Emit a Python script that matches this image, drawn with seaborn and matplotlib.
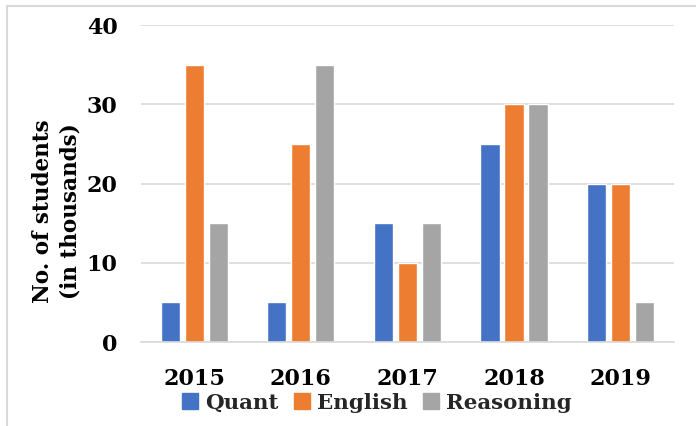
import pandas as pd
import numpy as np
import matplotlib
matplotlib.use('Agg')
import matplotlib.pyplot as plt
import seaborn as sns
from matplotlib.lines import Line2D

# Chart data
years = ['2015', '2016', '2017', '2018', '2019']
quant = [5, 5, 15, 25, 20]
english = [35, 25, 10, 30, 20]
reasoning = [15, 35, 15, 30, 5]

subjects = ['Quant', 'English', 'Reasoning']
colors = ['#4472C4', '#ED7D31', '#A5A5A5']

# Long format for seaborn
df = pd.DataFrame({
    'Year': years * 3,
    'Subject': ['Quant'] * 5 + ['English'] * 5 + ['Reasoning'] * 5,
    'Students': quant + english + reasoning,
})

sns.set_style('white')
plt.rcParams['font.family'] = ['DejaVu Serif']
plt.rcParams['font.weight'] = 'bold'

fig = plt.figure(figsize=(6.96, 4.26), dpi=100)
ax = fig.add_axes([0.2026, 0.197, 0.7655, 0.744])

sns.barplot(data=df, x='Year', y='Students', hue='Subject', hue_order=subjects,
            palette=colors, width=0.675, gap=0.2, errorbar=None, ax=ax,
            saturation=1, legend=False)

ax.set_ylim(0, 40)
ax.set_yticks([0, 10, 20, 30, 40])
ax.set_xlim(-0.5, 4.5)
ax.yaxis.grid(True, color='#d9d9d9', linewidth=1.2)
ax.set_axisbelow(True)
for s in ['top', 'right', 'left']:
    ax.spines[s].set_visible(False)
ax.spines['bottom'].set_color('#d9d9d9')
ax.spines['bottom'].set_linewidth(1.2)
ax.tick_params(axis='both', length=0, labelsize=16, labelcolor='black')
ax.tick_params(axis='y', pad=17)
ax.tick_params(axis='x', pad=19)
for lbl in ax.get_xticklabels() + ax.get_yticklabels():
    lbl.set_fontweight('bold')
ax.set_xlabel('')
ax.set_ylabel('No. of students\n(in thousands)', fontsize=15.5, fontweight='bold',
              color='black', linespacing=1.3)
ax.yaxis.set_label_coords(-0.112, 0.413)

# Legend at the bottom
handles = [Line2D([0], [0], marker='s', linestyle='', markersize=11,
                  markerfacecolor=c, markeredgecolor=c) for c in colors]
fig.legend(handles, subjects, loc='center', bbox_to_anchor=(0.54, 0.055), ncol=3,
           frameon=False, prop={'size': 15.4, 'weight': 'bold'},
           handletextpad=0.2, columnspacing=0.6, handlelength=1.0)

# Light border around chart area (top and left)
fig.add_artist(Line2D([7 / 696, 7 / 696], [0, 1 - 6 / 426], color='#d9d9d9', lw=1.5,
                      transform=fig.transFigure))
fig.add_artist(Line2D([7 / 696, 1], [1 - 6 / 426, 1 - 6 / 426], color='#d9d9d9', lw=1.5,
                      transform=fig.transFigure))

fig.savefig('out.png', dpi=100)
